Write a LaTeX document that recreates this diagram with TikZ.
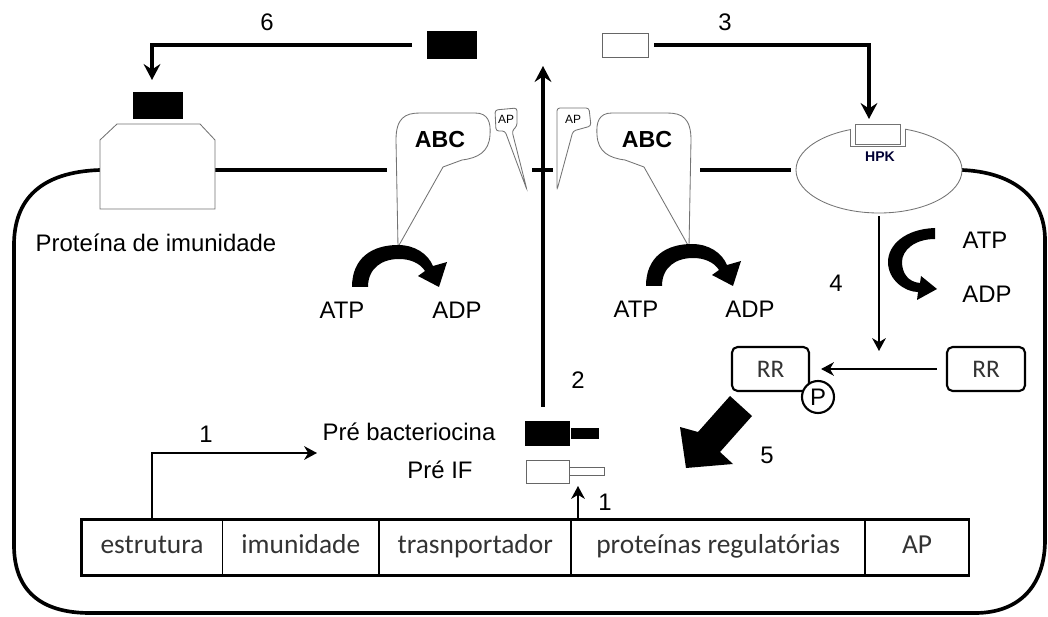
\documentclass[tikz,border=0pt]{standalone}
\usepackage{fontspec}
\setmainfont{Liberation Sans}
\newfontfamily\genefont{Carlito}
\usetikzlibrary{arrows.meta,positioning,shapes.geometric}
\newcommand{\atpturn}{%
  \fill (352,287) .. controls (352,258) and (372,245) .. (398,245)
    .. controls (415,245) and (428,254) .. (433,266) -- (447,262) -- (439,287)
    -- (418,276) -- (425,271) .. controls (420,263) and (410,259) .. (399,259)
    .. controls (382,259) and (368,268) .. (368,287) -- cycle;}
\newcommand{\abcshape}{%
  \draw[outline] (398,247) -- (396,140) .. controls (396,118) and (405,113) .. (420,113)
    -- (475,113) .. controls (488,113) and (491,122) .. (490,135)
    .. controls (489,152) and (478,158) .. (462,160) -- (443,167) -- cycle;}
\tikzset{
  membrane/.style={
    line width=2.6pt,
    draw=black
  },
  outline/.style={
    draw=black!55,
    line width=0.6pt,
    fill=white
  },
  txt/.style={
    font=\fontsize{17}{20}\selectfont,
    inner sep=0pt
  },
  smalltxt/.style={
    font=\fontsize{8.5}{10}\selectfont,
    inner sep=0pt
  },
  genecell/.style={
    rectangle,
    draw=black,
    line width=0.6pt,
    minimum height=1.375cm,
    inner sep=0pt,
    text height=2.1ex,
    text depth=0.6ex,
    text=black!80,
    font=\genefont\fontsize{19.5}{22}\selectfont
  },
  rrbox/.style={
    rectangle,
    rounded corners=4pt,
    draw=black,
    line width=1.5pt,
    minimum height=1.1cm,
    text=black!80,
    font=\genefont\fontsize{18}{20}\selectfont
  },
  peptide/.style={
    rectangle,
    fill=black,
    inner sep=0pt
  },
  whitepeptide/.style={
    rectangle,
    draw=black!60,
    line width=0.6pt,
    fill=white,
    inner sep=0pt
  },
  arrow/.style={
    -{Stealth[length=4mm,width=4.2mm,inset=1.4mm]},
    line width=2.6pt
  },
  thinarrow/.style={
    -{Stealth[length=3.2mm,width=3.4mm,inset=1mm]},
    line width=1.7pt
  }
}

\begin{document}
\begin{tikzpicture}[x=0.025cm, y=-0.025cm]
  \useasboundingbox (0,0) rectangle (1048,617);

  \draw[membrane] (100,170) .. controls (40,172) and (14,200) .. (14,245) -- (14,545)
    .. controls (14,590) and (40,613) .. (90,613) -- (975,613)
    .. controls (1020,613) and (1045,585) .. (1045,540) -- (1045,240)
    .. controls (1045,195) and (1010,172) .. (962,170);
  \draw[membrane] (215,170) -- (387,170);
  \draw[membrane] (532,170) -- (553,170);
  \draw[membrane] (700,170) -- (791,170);

  \draw[outline] (100,209) -- (100,140) -- (117,124) -- (200,124) -- (215,140) -- (215,209) -- cycle;
  \node[peptide, minimum width=1.25cm, minimum height=0.675cm] (bacbound) at (158,105.5) {};
  \node[txt] (immlbl) at (156,243) {Proteína de imunidade};

  \node[peptide, minimum width=1.225cm, minimum height=0.675cm] (bacout) at (452,45) {};
  \node[whitepeptide, minimum width=1.15cm, minimum height=0.6cm] (ifout) at (625,45) {};
  \node[txt] (n6) at (267,22) {6};
  \node[txt] (n3) at (725,22) {3};
  \coordinate (imtop) at (152,80);
  \coordinate (hpkin) at (869,119);
  \draw[arrow, shorten <=0.375cm] (bacout.west) -| (imtop);
  \draw[arrow, shorten <=0.15cm] (ifout.east) -| (hpkin);

  \abcshape
  \begin{scope}[shift={(1087,0)}, xscale=-1]
    \abcshape
  \end{scope}
  \node[txt, font=\bfseries\fontsize{16.5}{19}\selectfont] (abcl) at (440,140) {ABC};
  \node[txt, font=\bfseries\fontsize{16.5}{19}\selectfont] (abcr) at (647,140) {ABC};

  \draw[outline, rounded corners=2pt] (495,110) -- (517,108) -- (517,126) -- (512,131)
    -- (527,190) -- (505,131) -- (496,131) -- cycle;
  \draw[outline, rounded corners=2pt] (557,108) -- (589,108) -- (591,126) -- (573,131)
    -- (557,190) -- cycle;
  \node[smalltxt] (apl) at (506,119) {AP};
  \node[smalltxt] (apr) at (573,119) {AP};

  \atpturn
  \begin{scope}[shift={(294,-1)}]
    \atpturn
  \end{scope}
  \node[txt] (atpl) at (342,310) {ATP};
  \node[txt] (adpl) at (457,310) {ADP};
  \node[txt] (atpr) at (636,309) {ATP};
  \node[txt] (adpr) at (750,309) {ADP};

  \node[ellipse, outline, minimum width=4.15cm, minimum height=2.15cm, inner sep=0pt] (hpk) at (879,170) {};
  \fill[white] (850,120) rectangle (905,146);
  \draw[black!55, line width=0.6pt] (850,129) -- (850,146) -- (905,146) -- (905,129);
  \node[whitepeptide, draw=black!55, minimum width=1.125cm, minimum height=0.5cm] (receptor) at (877.5,134) {};
  \node[font=\bfseries\fontsize{10}{12}\selectfont, text=black!80!blue, inner sep=0pt] (hpklbl) at (880,157) {HPK};

  \coordinate (rrin) at (879,351);
  \draw[thinarrow, shorten <=0.075cm] (hpk.south) -- (rrin);
  \node[txt] (n4) at (836,283) {4};
  \fill (935,228) .. controls (905,229) and (888,245) .. (888,262)
    .. controls (888,280) and (905,292) .. (918,292) -- (917,300) -- (937,289)
    -- (921,276) -- (920,283) .. controls (908,282) and (902,273) .. (902,262)
    .. controls (902,250) and (915,239) .. (935,239) -- cycle;
  \node[txt] (atpk) at (985,240) {ATP};
  \node[txt] (adpk) at (987,294) {ADP};

  \node[rrbox, minimum width=1.925cm] (rrp) at (770.5,369) {RR};
  \node[rrbox, minimum width=1.95cm] (rr) at (986,369) {RR};
  \node[circle, draw, line width=1.5pt, fill=white, minimum size=0.8cm, inner sep=0pt,
    font=\fontsize{17}{20}\selectfont] (phos) at (818,397) {P};
  \draw[thinarrow, line width=1.2pt, shorten <=0.225cm, shorten >=0.275cm] (rr.west) -- (rrp.east);

  \fill (730,396) -- (752,416) -- (720,452) -- (733,464) -- (686,468) -- (680,427) -- (698,432) -- cycle;
  \node[txt] (n5) at (767,455) {5};

  \node[peptide, minimum width=1.125cm, minimum height=0.625cm] (prebac) at (547.5,433.5) {};
  \node[peptide, minimum width=0.7cm, minimum height=0.25cm, right=0pt of prebac] (prebactail) {};
  \node[whitepeptide, minimum width=1.075cm, minimum height=0.575cm] (preif) at (547.5,471.5) {};
  \node[whitepeptide, minimum width=0.875cm, minimum height=0.2cm, right=0pt of preif] (preiftail) {};
  \node[txt] (prebaclbl) at (409,432) {Pré bacteriocina};
  \node[txt] (preiflbl) at (440,470) {Pré IF};

  \coordinate (exit) at (543,66);
  \draw[arrow, shorten <=0.35cm] (exit |- prebac.north) -- (exit);
  \node[txt] (n2) at (578,380) {2};

  \node[genecell, minimum width=3.5cm] (estr) at (152,547.5) {estrutura};
  \node[genecell, minimum width=3.9cm, right=0pt of estr] (imun) {imunidade};
  \node[genecell, minimum width=4.775cm, right=0pt of imun] (transp) {trasnportador};
  \node[genecell, minimum width=7.325cm, right=0pt of transp] (reg) {proteínas regulatórias};
  \node[genecell, minimum width=2.575cm, right=0pt of reg] (apgene) {AP};
  \draw[line width=1.8pt] (estr.north west) rectangle (apgene.south east);

  \coordinate (to1) at (317,453);
  \coordinate (up1) at (578,486);
  \draw[thinarrow] (estr.north) |- (to1);
  \draw[thinarrow] (reg.north -| up1) -- (up1);
  \node[txt] (n1a) at (206,434) {1};
  \node[txt] (n1b) at (605,502) {1};
\end{tikzpicture}
\end{document}
